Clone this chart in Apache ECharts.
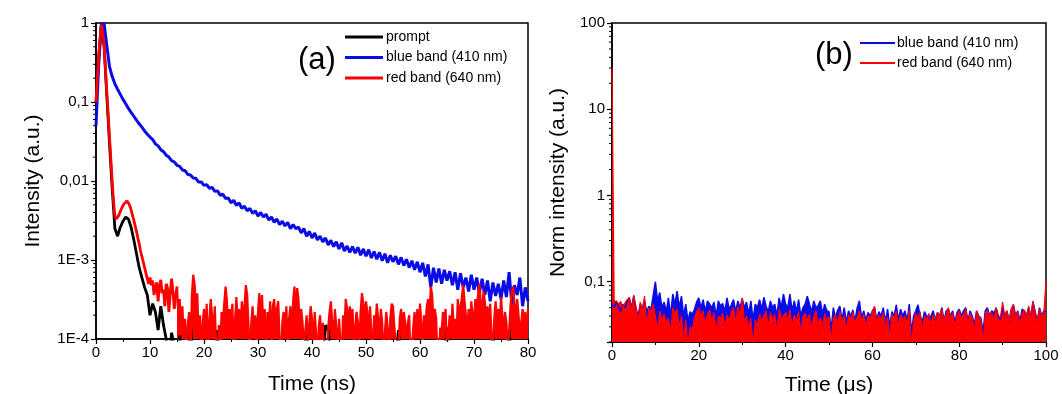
<!DOCTYPE html>
<html>
<head>
<meta charset="utf-8">
<script src="https://cdn.jsdelivr.net/npm/echarts@6/dist/echarts.min.js"></script>
<style>
html,body{margin:0;padding:0;background:#fff;}
#c{width:1062px;height:394px;}
</style>
</head>
<body>
<div id="c"></div>
<script>
// ---------- DATA ----------
// Panel (a): time in ns
const promptStep = 0.5;   // prompt sampled every 0.5 ns, 0..80
const blueStep = 0.5;     // blue band sampled every 0.5 ns, 0..80
const redStep = 0.25;     // red band sampled every 0.25 ns, 0..80
const promptNs = [
0.1,0.35,1.0,0.5,0.12,0.03,0.008,0.0025,0.002,0.0026,
0.0031,0.0035,0.0033,0.0026,0.0018,0.0012,0.0008,0.0006,0.00045,0.00036,
0.0002,0.00028,0.00022,0.00013,0.00026,0.00015,0.0001,0.00005,0.00012,0.00008,0.00005,0.00011,
5e-5,5e-5,5e-5,1.6e-4,5e-5,5e-5,5e-5,5e-5,5e-5,5e-5,
5e-5,5e-5,5e-5,1.3e-4,5e-5,5e-5,5e-5,5e-5,5e-5,5e-5,
5e-5,5e-5,5e-5,5e-5,5e-5,5e-5,5e-5,5e-5,5e-5,5e-5,
5e-5,5e-5,5e-5,5e-5,5e-5,5e-5,5e-5,5e-5,5e-5,5e-5,
5e-5,5e-5,5e-5,5e-5,5e-5,5e-5,1.6e-4,5e-5,5e-5,5e-5,
5e-5,5e-5,5e-5,1.5e-4,1.3e-4,5e-5,5e-5,5e-5,5e-5,5e-5,
5e-5,5e-5,5e-5,5e-5,5e-5,5e-5,5e-5,5e-5,5e-5,5e-5,
5e-5,5e-5,5e-5,5e-5,5e-5,5e-5,5e-5,5e-5,5e-5,5e-5,
1.3e-4,5e-5,5e-5,5e-5,5e-5,5e-5,5e-5,5e-5,5e-5,5e-5,
5e-5,5e-5,5e-5,5e-5,5e-5,5e-5,5e-5,5e-5,1.4e-4,5e-5,
5e-5,5e-5,5e-5,5e-5,5e-5,5e-5,5e-5,5e-5,5e-5,5e-5,
5e-5,5e-5,5e-5,5e-5,5e-5,1.2e-4,5e-5,5e-5,5e-5,5e-5,
5e-5,1.3e-4,5e-5,5e-5,5e-5,5e-5,5e-5,5e-5,5e-5
];
const blueNs = [
0.05,0.3,0.95,0.98,0.52,0.28,0.21,0.17,0.145,0.125,
0.108,0.095,0.083,0.074,0.066,0.059,0.053,0.048,0.043,0.039,
0.036,0.0335,0.0295,0.0278,0.0249,0.0235,0.0212,0.0201,0.0181,0.0174,
0.0158,0.0153,0.0138,0.0135,0.0121,0.0119,0.0109,0.0108,0.0097,0.0097,
0.0088,0.0090,0.0081,0.0083,0.0074,0.0075,0.0066,0.0068,0.0060,0.0061,
0.0053,0.0057,0.0049,0.0053,0.0045,0.0048,0.0042,0.0045,0.0039,0.0042,
0.0036,0.0040,0.0035,0.0038,0.0032,0.0035,0.0030,0.0033,0.0028,0.0031,
0.0027,0.0030,0.0025,0.0028,0.0025,0.0026,0.0022,0.0025,0.0020,0.0023,
0.0019,0.0022,0.0018,0.0020,0.0017,0.0019,0.00155,0.00178,0.00148,0.0017,
0.00138,0.00165,0.0013,0.0015,0.00125,0.00148,0.00122,0.00145,0.00115,0.00138,
0.00112,0.00135,0.00106,0.00128,0.00102,0.00125,0.00098,0.0012,0.00092,0.00115,
0.00095,0.00112,0.00088,0.00108,0.00085,0.00102,0.0008,0.00098,0.00075,0.00095,
0.0007,0.00092,0.00062,0.00088,0.00045,0.0008,0.00052,0.00078,0.0005,0.00075,
0.00055,0.00072,0.00048,0.0007,0.00042,0.00068,0.00045,0.0006,0.0004,0.00065,
0.00042,0.0006,0.00038,0.00058,0.00036,0.00055,0.0003,0.00052,0.00035,0.0005,
0.00032,0.00055,0.00034,0.0007,0.00028,0.00048,0.00036,0.0006,0.00026,0.00045,
0.0003
];
const redNs = [
0.1,0.2,0.38,0.65,0.95,1.0,0.55,0.27,0.134,0.07,
0.036,0.019,0.0098,0.0055,0.0036,0.0033,0.0034,0.0037,0.0041,0.0045,
0.0049,0.0052,0.0055,0.0056,0.0054,0.0049,0.0043,0.0037,0.0032,0.0027,
0.0023,0.0019,0.0016,0.0013,0.0011,0.00095,0.0008,0.00068,0.00058,0.0005,
6.0e-4,4.8e-4,5.5e-4,3.6e-4,4.5e-4,5.2e-4,3.0e-4,4.6e-4,5.6e-4,3.8e-4,
4.2e-4,2.6e-4,5.0e-4,4.4e-4,2.2e-4,3.8e-4,5.8e-4,4.0e-4,2.4e-4,3.4e-4,
4.6e-4,2.0e-4,3.2e-4,1.4e-4,2.6e-4,1.0e-4,1.8e-4,0.6e-4,1.5e-4,2.2e-4,
0.5e-4,3.5e-4,6.5e-4,5.0e-4,2.5e-4,3.8e-4,1.2e-4,2.0e-4,0.6e-4,1.6e-4,
2.4e-4,1.0e-4,2.8e-4,0.5e-4,1.8e-4,3.2e-4,2.0e-4,1.2e-4,2.6e-4,0.8e-4,
0.5e-4,1.5e-4,0.6e-4,2.2e-4,1.6e-4,2.8e-4,4.6e-4,3.0e-4,1.2e-4,2.4e-4,
1.4e-4,2.8e-4,0.7e-4,1.8e-4,3.4e-4,1.6e-4,2.4e-4,1.0e-4,3.0e-4,1.8e-4,
2.6e-4,4.8e-4,3.6e-4,1.4e-4,0.5e-4,1.6e-4,2.6e-4,1.2e-4,2.0e-4,0.8e-4,
2.2e-4,3.8e-4,1.8e-4,3.6e-4,1.2e-4,2.4e-4,0.6e-4,2.2e-4,1.4e-4,3.0e-4,
0.8e-4,2.6e-4,3.2e-4,1.4e-4,2.4e-4,3.0e-4,1.0e-4,0.5e-4,1.6e-4,2.2e-4,
1.2e-4,2.6e-4,0.8e-4,1.8e-4,2.6e-4,1.0e-4,3.0e-4,4.6e-4,2.0e-4,4.4e-4,
3.2e-4,1.2e-4,2.4e-4,1.6e-4,0.7e-4,1.2e-4,2.0e-4,0.8e-4,1.6e-4,2.6e-4,
1.8e-4,0.6e-4,2.2e-4,1.2e-4,0.5e-4,1.4e-4,2.0e-4,0.7e-4,1.6e-4,0.5e-4,
0.6e-4,0.5e-4,1.4e-4,2.2e-4,3.0e-4,1.6e-4,1.0e-4,2.4e-4,1.4e-4,0.6e-4,
1.8e-4,1.0e-4,0.5e-4,2.0e-4,1.2e-4,3.2e-4,2.4e-4,1.4e-4,2.6e-4,1.6e-4,
2.4e-4,0.8e-4,1.4e-4,2.2e-4,1.6e-4,0.8e-4,2.2e-4,3.8e-4,2.8e-4,1.8e-4,
3.0e-4,2.2e-4,1.0e-4,2.6e-4,1.2e-4,0.6e-4,2.0e-4,1.4e-4,2.8e-4,1.8e-4,
1.2e-4,2.4e-4,1.6e-4,0.5e-4,1.2e-4,2.2e-4,1.4e-4,0.6e-4,1.8e-4,2.8e-4,
2.6e-4,1.4e-4,0.9e-4,0.5e-4,0.6e-4,1.8e-4,2.4e-4,1.2e-4,2.2e-4,1.6e-4,
1.0e-4,1.6e-4,2.0e-4,0.5e-4,0.8e-4,1.4e-4,2.2e-4,1.0e-4,2.4e-4,1.2e-4,
2.8e-4,1.6e-4,0.8e-4,2.0e-4,1.4e-4,2.6e-4,3.2e-4,1.8e-4,4.6e-4,3.6e-4,
1.6e-4,2.4e-4,1.8e-4,0.5e-4,0.6e-4,1.4e-4,1.2e-4,2.2e-4,1.6e-4,2.4e-4,
0.6e-4,1.2e-4,2.0e-4,1.0e-4,2.8e-4,1.4e-4,1.8e-4,1.0e-4,3.2e-4,2.2e-4,
2.4e-4,3.4e-4,4.8e-4,3.0e-4,2.0e-4,1.2e-4,2.4e-4,1.4e-4,3.0e-4,2.0e-4,
1.6e-4,3.2e-4,2.4e-4,3.6e-4,5.0e-4,2.8e-4,2.2e-4,4.0e-4,3.0e-4,1.6e-4,
2.6e-4,1.4e-4,2.8e-4,1.0e-4,0.8e-4,1.8e-4,3.0e-4,1.8e-4,2.4e-4,1.4e-4,
3.4e-4,2.0e-4,1.2e-4,2.2e-4,1.6e-4,0.8e-4,1.2e-4,2.6e-4,4.0e-4,4.6e-4,
2.8e-4,1.8e-4,3.2e-4,2.0e-4,1.2e-4,1.6e-4,2.4e-4,1.4e-4,2.2e-4,1.0e-4,
2.4e-4
];
const redNoiseStartNs = 15; // from here the red trace is dense noise drawn as filled spikes

// Panel (b): time in µs, sampled every 0.5 µs from 0 to 100
const usStep = 0.5;
const blueUs = [
0.055,0.05,0.058,0.052,0.045,0.055,0.05,0.06,0.065,0.05,
0.068,0.05,0.04,0.055,0.05,0.06,0.045,0.052,0.048,0.07,
0.1,0.06,0.075,0.05,0.058,0.045,0.065,0.04,0.072,0.055,
0.078,0.05,0.068,0.04,0.055,0.035,0.045,0.042,0.048,0.058,
0.065,0.05,0.062,0.045,0.06,0.055,0.05,0.058,0.04,0.06,
0.052,0.056,0.045,0.065,0.048,0.054,0.062,0.045,0.06,0.05,
0.064,0.05,0.058,0.042,0.06,0.036,0.055,0.05,0.062,0.048,
0.066,0.052,0.045,0.06,0.05,0.055,0.04,0.065,0.05,0.072,
0.055,0.05,0.072,0.046,0.06,0.045,0.062,0.04,0.05,0.055,
0.068,0.055,0.045,0.06,0.05,0.053,0.06,0.042,0.055,0.046,
0.045,0.028,0.05,0.038,0.047,0.052,0.036,0.05,0.034,0.046,
0.04,0.047,0.035,0.05,0.06,0.038,0.046,0.036,0.044,0.04,
0.046,0.05,0.036,0.045,0.04,0.05,0.034,0.048,0.03,0.045,
0.04,0.054,0.036,0.048,0.04,0.046,0.035,0.055,0.026,0.04,
0.046,0.054,0.04,0.034,0.045,0.04,0.037,0.04,0.046,0.036,
0.044,0.04,0.05,0.035,0.046,0.048,0.04,0.046,0.034,0.044,
0.048,0.04,0.046,0.05,0.035,0.046,0.04,0.032,0.046,0.04,
0.038,0.026,0.046,0.05,0.04,0.046,0.043,0.05,0.04,0.036,
0.05,0.04,0.046,0.035,0.048,0.054,0.04,0.046,0.035,0.048,
0.046,0.04,0.05,0.04,0.058,0.045,0.035,0.05,0.04,0.046,
0.045
];
const redUs = [
30,0.058,0.06,0.055,0.059,0.05,0.057,0.062,0.066,0.045,
0.07,0.052,0.035,0.058,0.048,0.068,0.03,0.05,0.044,0.055,
0.04,0.028,0.046,0.036,0.042,0.033,0.038,0.025,0.05,0.043,
0.048,0.03,0.04,0.022,0.036,0.018,0.03,0.028,0.038,0.045,
0.05,0.04,0.046,0.032,0.042,0.047,0.035,0.044,0.026,0.04,
0.038,0.043,0.03,0.041,0.036,0.045,0.05,0.033,0.052,0.04,
0.065,0.034,0.04,0.028,0.038,0.018,0.036,0.031,0.042,0.035,
0.04,0.046,0.03,0.044,0.037,0.042,0.026,0.048,0.038,0.04,
0.044,0.036,0.047,0.03,0.041,0.035,0.045,0.025,0.039,0.043,
0.036,0.042,0.028,0.04,0.046,0.033,0.038,0.03,0.043,0.035,
0.04,0.02,0.038,0.042,0.032,0.045,0.036,0.04,0.028,0.041,
0.037,0.044,0.033,0.039,0.046,0.035,0.042,0.03,0.04,0.038,
0.045,0.052,0.034,0.041,0.036,0.044,0.03,0.039,0.022,0.042,
0.038,0.046,0.03,0.042,0.036,0.04,0.033,0.047,0.018,0.035,
0.043,0.038,0.045,0.028,0.04,0.036,0.043,0.032,0.041,0.037,
0.044,0.039,0.048,0.035,0.042,0.05,0.038,0.044,0.03,0.041,
0.046,0.037,0.042,0.048,0.033,0.043,0.038,0.027,0.045,0.04,
0.036,0.02,0.042,0.047,0.039,0.044,0.036,0.05,0.041,0.038,
0.058,0.04,0.046,0.035,0.048,0.055,0.039,0.045,0.032,0.043,
0.047,0.04,0.052,0.038,0.06,0.044,0.034,0.048,0.04,0.043,
0.1
];

// Tick labels by decade exponent
const leftYTickLabels = {'0':'1','-1':'0,1','-2':'0,01','-3':'1E-3','-4':'1E-4'};
const rightYTickLabels = {'2':'100','1':'10','0':'1','-1':'0,1'};
const seriesNames = ['prompt','blue band (410 nm)','red band (640 nm)'];
const panelTags = ['(a)','(b)'];

// ---------- BUILD ----------
function pairs(arr, step, from, to){
  const out=[];
  arr.forEach((v,i)=>{ const x=i*step; if((from===undefined||x>=from-1e-9)&&(to===undefined||x<=to+1e-9)) out.push([x,v]); });
  return out;
}
function logMinor(lo, hi){
  const out=[];
  for(let e=lo;e<hi;e++){ for(let m=2;m<=9;m++){ out.push([0, m*Math.pow(10,e)]); } }
  return out;
}
function fmt(map){
  return function(v){
    const l=Math.log10(v), e=Math.round(l);
    if(Math.abs(l-e)>1e-6) return '';
    return map[String(e)]||'';
  };
}
const FONT='Liberation Sans, Arial, sans-serif';
const BLACK='#000000', BLUE='#0b0be6', RED='#ff0000';

const minorRender = function(params, api){
  const p = api.coord([api.value(0), api.value(1)]);
  return {type:'line', shape:{x1:p[0]-3, y1:p[1], x2:p[0], y2:p[1]}, style:{stroke:'#000', lineWidth:1}, silent:true};
};

const axisCommon = {
  axisLine:{show:true, lineStyle:{color:'#000', width:1.5}},
  axisTick:{show:true, inside:false, length:5, lineStyle:{color:'#000', width:1.2}},
  splitLine:{show:false}
};

const chart = echarts.init(document.getElementById('c'), null, {renderer:'canvas'});
chart.setOption({
  animation:false,
  backgroundColor:'#fff',
  title:[
    {text:panelTags[0], left:293, top:40, textStyle:{fontSize:31, fontWeight:'normal', color:'#000', fontFamily:FONT}},
    {text:panelTags[1], left:810, top:35, textStyle:{fontSize:31, fontWeight:'normal', color:'#000', fontFamily:FONT}}
  ],
  legend:[
    {data:seriesNames, orient:'vertical', left:345, top:29, padding:0, icon:'rect', itemWidth:38, itemHeight:3, itemGap:4.5,
     textStyle:{fontSize:14, lineHeight:16, color:'#000', fontFamily:FONT, padding:[0,0,0,-2]}},
    {data:[seriesNames[1],seriesNames[2]], orient:'vertical', left:860, top:35, padding:0, icon:'rect', itemWidth:35, itemHeight:2, itemGap:4,
     textStyle:{fontSize:14, lineHeight:16, color:'#000', fontFamily:FONT, padding:[0,0,0,-3]}}
  ],
  grid:[
    {left:96, top:23, width:432, height:316, show:true, borderColor:'#000', borderWidth:1.5, backgroundColor:'transparent', outerBoundsMode:'none', containLabel:false},
    {left:612, top:23, width:434, height:319, show:true, borderColor:'#000', borderWidth:1.5, backgroundColor:'transparent', outerBoundsMode:'none', containLabel:false}
  ],
  xAxis:[
    Object.assign({}, axisCommon, {gridIndex:0, type:'value', min:0, max:80, interval:10,
      minorTick:{show:true, splitNumber:2, length:3, lineStyle:{color:'#000', width:1}},
      name:'Time (ns)', nameLocation:'middle', nameGap:35, nameTextStyle:{fontSize:21, color:'#000', fontFamily:FONT},
      axisLabel:{color:'#000', fontSize:15, fontFamily:FONT, margin:6}}),
    Object.assign({}, axisCommon, {gridIndex:1, type:'value', min:0, max:100, interval:20,
      minorTick:{show:true, splitNumber:2, length:3, lineStyle:{color:'#000', width:1}},
      name:'Time (\u03bcs)', nameLocation:'middle', nameGap:33, nameTextStyle:{fontSize:21, color:'#000', fontFamily:FONT},
      axisLabel:{color:'#000', fontSize:15, fontFamily:FONT, margin:6}})
  ],
  yAxis:[
    Object.assign({}, axisCommon, {gridIndex:0, type:'log', logBase:10, min:0.0001, max:1,
      name:'Intensity (a.u.)', nameLocation:'middle', nameGap:52, nameTextStyle:{fontSize:21, color:'#000', fontFamily:FONT},
      axisLabel:{color:'#000', fontSize:15, fontFamily:FONT, margin:7, formatter:fmt(leftYTickLabels)}}),
    Object.assign({}, axisCommon, {gridIndex:1, type:'log', logBase:10, min:0.02, max:100,
      name:'Norm intensity (a.u.)', nameLocation:'middle', nameGap:43, nameTextStyle:{fontSize:21, color:'#000', fontFamily:FONT},
      axisLabel:{color:'#000', fontSize:15, fontFamily:FONT, margin:7, formatter:fmt(rightYTickLabels)}})
  ],
  series:[
    {name:seriesNames[0], type:'line', xAxisIndex:0, yAxisIndex:0, data:pairs(promptNs,promptStep), showSymbol:false, symbol:'none',
     lineStyle:{color:BLACK, width:2.8}, itemStyle:{color:BLACK}, clip:true},
    {name:seriesNames[1], type:'line', xAxisIndex:0, yAxisIndex:0, data:pairs(blueNs,blueStep), showSymbol:false, symbol:'none',
     lineStyle:{color:BLUE, width:3}, itemStyle:{color:BLUE}, clip:true},
    {name:seriesNames[2], type:'line', xAxisIndex:0, yAxisIndex:0, data:pairs(redNs,redStep,0,redNoiseStartNs), showSymbol:false, symbol:'none',
     lineStyle:{color:RED, width:2.8}, itemStyle:{color:RED}, clip:true},
    {name:seriesNames[2], type:'line', xAxisIndex:0, yAxisIndex:0, data:pairs(redNs,redStep,redNoiseStartNs), showSymbol:false, symbol:'none',
     lineStyle:{color:RED, width:2.2}, itemStyle:{color:RED}, areaStyle:{color:RED, opacity:1}, clip:true},
    {name:seriesNames[1], type:'line', xAxisIndex:1, yAxisIndex:1, data:pairs(blueUs,usStep), showSymbol:false, symbol:'none',
     lineStyle:{color:BLUE, width:1.5}, itemStyle:{color:BLUE}, areaStyle:{color:BLUE, opacity:1}, clip:true},
    {name:seriesNames[2], type:'line', xAxisIndex:1, yAxisIndex:1, data:pairs(redUs,usStep), showSymbol:false, symbol:'none',
     lineStyle:{color:RED, width:1.2}, itemStyle:{color:RED}, areaStyle:{color:RED, opacity:1}, clip:true},
    {type:'custom', xAxisIndex:0, yAxisIndex:0, data:logMinor(-4,0), renderItem:minorRender, silent:true, z:5},
    {type:'custom', xAxisIndex:1, yAxisIndex:1, data:logMinor(-2,2).filter(d=>d[1]>=0.02), renderItem:minorRender, silent:true, z:5}
  ]
});
</script>
</body>
</html>
